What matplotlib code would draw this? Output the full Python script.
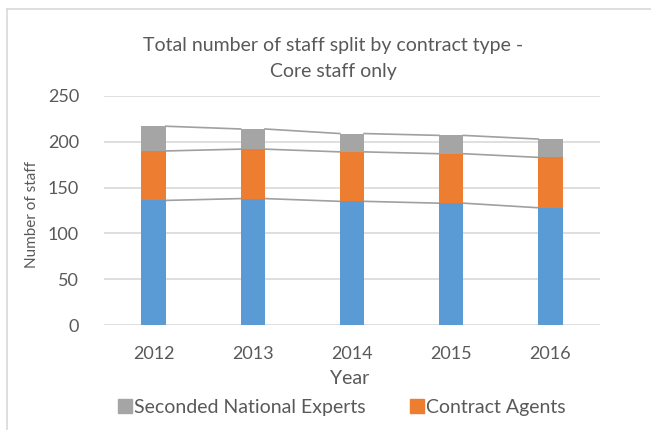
import numpy as np
import matplotlib
matplotlib.use('Agg')
from matplotlib import pyplot as plt
from matplotlib.lines import Line2D

plt.rcParams['font.family'] = ['Lato', 'DejaVu Sans']

years = ['2012', '2013', '2014', '2015', '2016']
temporary = [136, 138, 135, 133, 128]
contract = [54, 54, 54, 54, 55]
seconded = [27, 22, 20, 20, 20]

blue = '#5B9BD5'
orange = '#ED7D31'
grey = '#A5A5A5'
text_col = '#595959'
grid_col = '#D9D9D9'

W, H = 651, 430
fig = plt.figure(figsize=(W / 100, H / 100), dpi=100)
ax = fig.add_axes([104 / W, 1 - 325 / H, (600 - 104) / W, (325 - 96) / H])

x = np.arange(len(years))
w = 0.245
t = np.array(temporary)
c = np.array(contract)
s = np.array(seconded)

ax.bar(x, t, w, color=blue, zorder=3)
ax.bar(x, c, w, bottom=t, color=orange, zorder=3)
ax.bar(x, s, w, bottom=t + c, color=grey, zorder=3)

# series lines between stacked tops
for level in [t, t + c, t + c + s]:
    for i in range(len(x) - 1):
        ax.plot([x[i] + w / 2, x[i + 1] - w / 2], [level[i], level[i + 1]],
                color='#A0A0A0', lw=1.2, zorder=2)

ax.set_xlim(-0.5, len(years) - 0.5)
ax.set_ylim(0, 250)
ax.set_yticks(np.arange(0, 251, 50))
ax.set_xticks(x)
ax.set_xticklabels(years)
ax.grid(axis='y', color=grid_col, lw=1.2, zorder=0)
for sp in ax.spines.values():
    sp.set_visible(False)
ax.tick_params(length=0, labelsize=13, colors=text_col)
ax.tick_params(axis='y', pad=18)
ax.tick_params(axis='x', pad=15)

fig.text(32 / W, 1 - 214 / H, 'Number of staff', rotation=90, ha='center',
         va='center', fontsize=11, color=text_col)
fig.text(350 / W, 1 - 378 / H, 'Year', ha='center', va='center',
         fontsize=14, color=text_col)
fig.text(333 / W, 1 - 51 / H, 'Total number of staff split by contract type -',
         ha='center', va='baseline', fontsize=14, color=text_col)
fig.text(333 / W, 1 - 77 / H, 'Core staff only', ha='center', va='baseline',
         fontsize=14, color=text_col)

handles = [Line2D([], [], marker='s', ls='', color=grey, markersize=9.5),
           Line2D([], [], marker='s', ls='', color=orange, markersize=9.5)]
fig.legend(handles, ['Seconded National Experts', 'Contract Agents'],
           loc='center', bbox_to_anchor=(341 / W, 1 - 407 / H), ncol=2,
           frameon=False, fontsize=14, handletextpad=0.0,
           columnspacing=2.2, handlelength=0.9, labelcolor=text_col)

# chart area border (cropped)
fig.add_artist(Line2D([7 / W, 7 / W], [0, 1 - 9 / H], transform=fig.transFigure,
                      color=grid_col, lw=1.2))
fig.add_artist(Line2D([7 / W, 1], [1 - 9 / H, 1 - 9 / H], transform=fig.transFigure,
                      color=grid_col, lw=1.2))

fig.savefig('out.png', dpi=100)
